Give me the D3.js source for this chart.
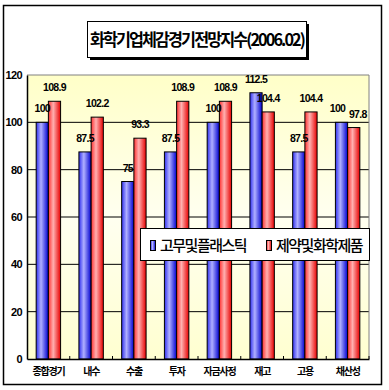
<!DOCTYPE html>
<html>
<head>
<meta charset="utf-8">
<script src="https://cdn.jsdelivr.net/npm/d3@7"></script>
<style>
  body { margin: 0; background: #fff; }
  svg { display: block; }
  .num { font-family: "Liberation Sans Narrow", "Liberation Sans", Arial, sans-serif; font-weight: bold; }
  .kr { font-family: "Noto Sans CJK KR", sans-serif; }
</style>
</head>
<body>
<div id="chart"></div>
<script>
const categories = ["종합경기", "내수", "수출", "투자", "자금사정", "재고", "고용", "채산성"]
const seriesNames = ["고무및플래스틱", "제약및화학제품"]
const rubberValues = [100, 87.5, 75, 87.5, 100, 112.5, 87.5, 100]
const pharmaValues = [108.9, 102.2, 93.3, 108.9, 108.9, 104.4, 104.4, 97.8]
const yTicks = [0, 20, 40, 60, 80, 100, 120]

const width = 389, height = 390
const margin = { top: 75, right: 20, bottom: 31, left: 27 }

const svg = d3.select("#chart").append("svg")
  .attr("width", width)
  .attr("height", height)

const defs = svg.append("defs")

function barGradient(id, edgeL, mid, edgeR) {
  const g = defs.append("linearGradient").attr("id", id)
    .attr("x1", "0%").attr("x2", "100%").attr("y1", "0%").attr("y2", "0%")
  g.append("stop").attr("offset", "0%").attr("stop-color", edgeL)
  g.append("stop").attr("offset", "40%").attr("stop-color", mid)
  g.append("stop").attr("offset", "100%").attr("stop-color", edgeR)
}
barGradient("gBlue", "#3030f0", "#b0b0ff", "#0000d0")
barGradient("gRed", "#ff3030", "#ffb0b0", "#e80000")

const bg = defs.append("linearGradient").attr("id", "gBg")
  .attr("x1", "0%").attr("x2", "0%").attr("y1", "0%").attr("y2", "100%")
bg.append("stop").attr("offset", "0%").attr("stop-color", "#ffffc8")
bg.append("stop").attr("offset", "50%").attr("stop-color", "#fffff0")
bg.append("stop").attr("offset", "100%").attr("stop-color", "#ffffd0")

// outer frame
svg.append("rect")
  .attr("x", 3.5).attr("y", 5.5).attr("width", 378).attr("height", 379)
  .attr("fill", "#fff").attr("stroke", "#000").attr("stroke-width", 1.5)

const pw = width - margin.left - margin.right
const ph = height - margin.top - margin.bottom

const x0 = d3.scaleBand().domain(categories).range([margin.left, margin.left + pw]).padding(0)
const x1 = d3.scaleBand().domain([0, 1]).range([0, x0.bandwidth()]).paddingInner(0).paddingOuter(0.75)
const y = d3.scaleLinear().domain([0, 120]).range([margin.top + ph, margin.top])

// plot background
svg.append("rect")
  .attr("x", margin.left).attr("y", margin.top)
  .attr("width", pw).attr("height", ph)
  .attr("fill", "url(#gBg)")

// grid lines
svg.append("g")
  .selectAll("line")
  .data(yTicks.filter(d => d > 0 && d < 120))
  .join("line")
  .attr("x1", margin.left).attr("x2", margin.left + pw)
  .attr("y1", d => y(d)).attr("y2", d => y(d))
  .attr("stroke", "#000").attr("stroke-width", 1)

// plot border (top/right grey)
svg.append("path")
  .attr("d", `M${margin.left},${margin.top}H${margin.left + pw}V${margin.top + ph}`)
  .attr("fill", "none").attr("stroke", "#808080").attr("stroke-width", 1)

// bars
const rows = categories.map((c, i) => ({ cat: c, vals: [rubberValues[i], pharmaValues[i]] }))
const fills = ["url(#gBlue)", "url(#gRed)"]

const grp = svg.append("g").selectAll("g")
  .data(rows)
  .join("g")
  .attr("transform", d => `translate(${x0(d.cat)},0)`)

grp.selectAll("rect")
  .data(d => d.vals.map((v, k) => ({ v, k })))
  .join("rect")
  .attr("x", d => x1(d.k))
  .attr("y", d => y(d.v))
  .attr("width", x1.bandwidth())
  .attr("height", d => y(0) - y(d.v))
  .attr("fill", d => fills[d.k])
  .attr("stroke", "#000").attr("stroke-width", 1)

// value labels
const labelShift = { "채산성": [-4, 4] }
grp.selectAll("text")
  .data(d => d.vals.map((v, k) => ({ v, k, cat: d.cat })))
  .join("text")
  .attr("class", "num")
  .attr("x", d => x1(d.k) + x1.bandwidth() / 2 + (labelShift[d.cat] ? labelShift[d.cat][d.k] : 0))
  .attr("y", d => y(d.v) - 10)
  .attr("text-anchor", "middle")
  .attr("font-size", 10.5)
  .attr("letter-spacing", -0.7)
  .text(d => d.v)

// axes
const yAxis = d3.axisLeft(y).tickValues(yTicks).tickSize(0).tickPadding(5)
svg.append("g")
  .attr("transform", `translate(${margin.left},0)`)
  .call(yAxis)
  .call(g => g.select(".domain").attr("stroke", "#000").attr("stroke-width", 1.5))
  .call(g => g.selectAll("text").attr("class", "num").attr("font-size", 11).attr("fill", "#000").attr("letter-spacing", -0.6))

const xAxis = d3.axisBottom(x0).tickSize(0).tickPadding(9)
svg.append("g")
  .attr("transform", `translate(0,${margin.top + ph})`)
  .call(xAxis)
  .call(g => g.select(".domain").attr("stroke", "#000").attr("stroke-width", 1.5))
  .call(g => g.selectAll("text").attr("class", "kr").attr("font-size", 10).attr("font-weight", "bold").attr("fill", "#000").attr("letter-spacing", -1.2))

// small tick marks between categories
svg.append("g").selectAll("line")
  .data(categories.slice(1).concat(["end"]))
  .join("line")
  .attr("x1", d => d === "end" ? margin.left + pw : x0(d))
  .attr("x2", d => d === "end" ? margin.left + pw : x0(d))
  .attr("y1", y(0) - 3).attr("y2", y(0))
  .attr("stroke", "#000")

// title box
svg.append("rect").attr("x", 90).attr("y", 24).attr("width", 219).attr("height", 36).attr("fill", "#000")
svg.append("rect").attr("x", 87.5).attr("y", 21.5).attr("width", 219).attr("height", 36)
  .attr("fill", "#fff").attr("stroke", "#000").attr("stroke-width", 1)
svg.append("text")
  .attr("class", "kr")
  .attr("x", 197).attr("y", 46)
  .attr("text-anchor", "middle")
  .attr("font-size", 17)
  .attr("font-weight", "bold")
  .attr("letter-spacing", -2)
  .attr("textLength", 214)
  .attr("lengthAdjust", "spacingAndGlyphs")
  .text("화학기업체감경기전망지수(2006.02)")

// legend
const legend = svg.append("g")
legend.append("rect").attr("x", 140.5).attr("y", 228.5).attr("width", 229).attr("height", 32)
  .attr("fill", "#fff").attr("stroke", "#000").attr("stroke-width", 1)
const legX = [150, 266]
seriesNames.forEach((name, k) => {
  legend.append("rect").attr("x", legX[k] + 0.5).attr("y", 240.5).attr("width", 5).attr("height", 10)
    .attr("fill", fills[k]).attr("stroke", "#000")
  legend.append("text").attr("class", "kr")
    .attr("x", legX[k] + 10).attr("y", 251)
    .attr("font-size", 15)
    .attr("font-weight", 500)
    .attr("letter-spacing", -1.5)
    .text(name)
})
</script>
</body>
</html>
